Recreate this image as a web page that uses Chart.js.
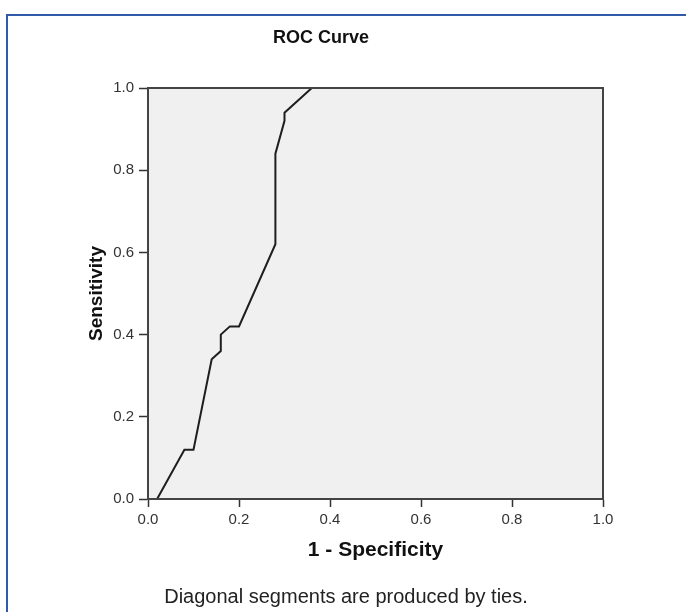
<!DOCTYPE html>
<html><head><meta charset="utf-8">
<script src="https://cdn.jsdelivr.net/npm/chart.js@4/dist/chart.umd.min.js"></script>
<style>
html,body{margin:0;padding:0;background:#fff;overflow:hidden}
#wrap{position:absolute;left:0;top:0;width:686px;height:612px}
#frame{position:absolute;left:6px;top:14px;width:690px;height:610px;border-left:2px solid #2f5aa8;border-top:2px solid #2f5aa8;box-sizing:border-box;pointer-events:none}
</style></head><body>
<div id="wrap"><canvas id="c" width="686" height="612"></canvas></div>
<div id="frame"></div>
<script>
const chartTitle = "ROC Curve";
const footnote = "Diagonal segments are produced by ties.";
const xTitle = "1 - Specificity";
const yTitle = "Sensitivity";
const tickValues = [0, 0.2, 0.4, 0.6, 0.8, 1.0];
const fpr = [0, 0.02, 0.08, 0.10, 0.14, 0.16, 0.16, 0.18, 0.20, 0.28, 0.28, 0.30, 0.30, 0.36, 1.0];
const tpr = [0, 0, 0.12, 0.12, 0.34, 0.36, 0.40, 0.42, 0.42, 0.62, 0.84, 0.92, 0.94, 1.0, 1.0];

const points = fpr.map((x, i) => ({x: x, y: tpr[i]}));
const FONT = "'Liberation Sans', Arial, sans-serif";

const framePlugin = {
  id: 'frameAndText',
  beforeDatasetsDraw(chart) {
    const {ctx, chartArea: a} = chart;
    ctx.save();
    ctx.fillStyle = '#f0f0f0';
    ctx.fillRect(a.left, a.top, a.right - a.left, a.bottom - a.top);
    ctx.restore();
  },
  afterDatasetsDraw(chart) {
    const {ctx, chartArea: a} = chart;
    ctx.save();
    ctx.strokeStyle = '#444';
    ctx.lineWidth = 2;
    ctx.strokeRect(a.left, a.top, a.right - a.left, a.bottom - a.top);
    ctx.fillStyle = '#111';
    ctx.textAlign = 'center';
    ctx.textBaseline = 'middle';
    ctx.font = "bold 18px " + FONT;
    ctx.fillText(chartTitle, 321, 38);
    ctx.font = "20px " + FONT;
    ctx.fillStyle = '#222';
    ctx.fillText(footnote, 346, 597);
    ctx.restore();
  }
};

const tickCfg = {
  min: 0, max: 1,
  afterBuildTicks: s => { s.ticks = tickValues.map(v => ({value: v})); },
};

new Chart(document.getElementById('c'), {
  type: 'scatter',
  data: { datasets: [{
    data: points, showLine: true, borderColor: '#1e1e1e', borderWidth: 2,
    pointRadius: 0, fill: false, tension: 0
  }]},
  options: {
    responsive: false, animation: false,
    layout: { padding: { left: 85, right: 83, top: 88, bottom: 49 } },
    plugins: { legend: {display: false}, tooltip: {enabled: false}, title: {display: false} },
    scales: {
      x: Object.assign({}, tickCfg, {
        type: 'linear',
        afterFit: s => { s.height = 64; },
        grid: { drawOnChartArea: false, color: '#333', tickLength: 8, tickWidth: 1.5 },
        border: { display: true, color: '#444', width: 2 },
        ticks: { padding: 4, color: '#333', font: {family: FONT, size: 15}, maxRotation: 0,
                 callback: v => Number(v).toFixed(1) },
        title: { display: true, text: xTitle, color: '#111', padding: 0,
                 font: {family: FONT, size: 21, weight: 'bold'} }
      }),
      y: Object.assign({}, tickCfg, {
        type: 'linear',
        afterFit: s => { s.width = 63; },
        grid: { drawOnChartArea: false, color: '#333', tickLength: 9, tickWidth: 1.5 },
        border: { display: true, color: '#444', width: 2 },
        ticks: { padding: 5, color: '#333', font: {family: FONT, size: 15},
                 callback: v => Number(v).toFixed(1) },
        title: { display: true, text: yTitle, color: '#111', padding: 0,
                 font: {family: FONT, size: 19, weight: 'bold'} }
      })
    }
  },
  plugins: [framePlugin]
});
</script>
</body></html>
